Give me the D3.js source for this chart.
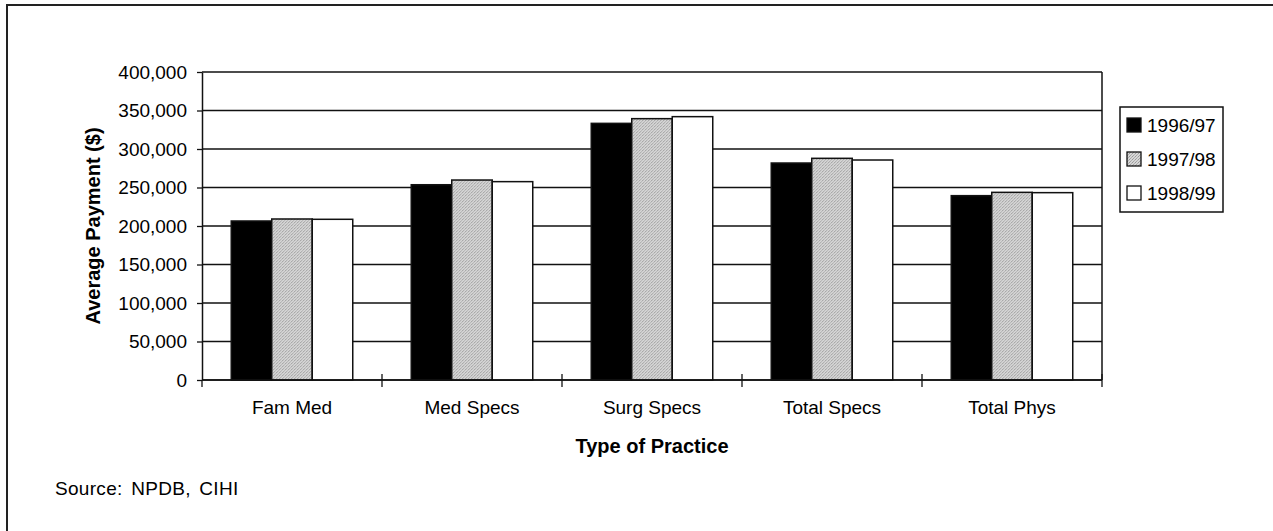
<!DOCTYPE html>
<html>
<head>
<meta charset="utf-8">
<script src="https://cdn.jsdelivr.net/npm/d3@7"></script>
<style>
  html, body { margin: 0; padding: 0; background: #fff; }
  svg { display: block; font-family: "Liberation Sans", Arial, sans-serif; }
</style>
</head>
<body>
<div id="chart"></div>
<script>
// data
var categories = ["Fam Med", "Med Specs", "Surg Specs", "Total Specs", "Total Phys"];
var seriesNames = ["1996/97", "1997/98", "1998/99"];
var values9697 = [206500, 253600, 333300, 281800, 239400];
var values9798 = [209100, 259700, 339400, 287900, 243700];
var values9899 = [208700, 257600, 342000, 285700, 243300];
var yTicks = [0, 50000, 100000, 150000, 200000, 250000, 300000, 350000, 400000];

var seriesValues = [values9697, values9798, values9899];
var fills = ["#000", "url(#stipple)", "#fff"];

var svgWidth = 1273, svgHeight = 531;
var margin = { top: 72, left: 202, right: 171, bottom: 151 };
var width = svgWidth - margin.left - margin.right;   // 900
var height = svgHeight - margin.top - margin.bottom; // 308

var svg = d3.select("#chart").append("svg")
  .attr("width", svgWidth)
  .attr("height", svgHeight);

// stippled grey fill
var defs = svg.append("defs");
var pat = defs.append("pattern")
  .attr("id", "stipple")
  .attr("patternUnits", "userSpaceOnUse")
  .attr("width", 3).attr("height", 3);
pat.append("rect").attr("width", 3).attr("height", 3).attr("fill", "#d6d6d6");
pat.append("rect").attr("x", 0).attr("y", 0).attr("width", 1).attr("height", 1).attr("fill", "#999");
pat.append("rect").attr("x", 2).attr("y", 1).attr("width", 1).attr("height", 1).attr("fill", "#b0b0b0");
pat.append("rect").attr("x", 1).attr("y", 2).attr("width", 1).attr("height", 1).attr("fill", "#a4a4a4");

// outer frame (right and bottom sides fall outside the window)
svg.append("rect")
  .attr("x", 7).attr("y", 5)
  .attr("width", 1300).attr("height", 600)
  .attr("fill", "none")
  .attr("stroke", "#222")
  .attr("stroke-width", 2);

var chartGroup = svg.append("g")
  .attr("transform", `translate(${margin.left}, ${margin.top})`);

// scales
var x0 = d3.scaleBand()
  .domain(categories)
  .range([0, width])
  .paddingInner(0.325)
  .paddingOuter(0.1625);

var x1 = d3.scaleBand()
  .domain(seriesNames)
  .range([0, x0.bandwidth()]);

var yScale = d3.scaleLinear()
  .domain([0, 400000])
  .range([height, 0]);

// gridlines
chartGroup.selectAll(".grid")
  .data(yTicks)
  .enter()
  .append("line")
  .attr("x1", 0).attr("x2", width)
  .attr("y1", d => yScale(d)).attr("y2", d => yScale(d))
  .attr("stroke", "#111")
  .attr("stroke-width", 1.3);

// right border of plot
chartGroup.append("line")
  .attr("x1", width).attr("x2", width)
  .attr("y1", 0).attr("y2", height)
  .attr("stroke", "#111")
  .attr("stroke-width", 1.5);

// bars
var groups = chartGroup.selectAll(".cat")
  .data(categories)
  .enter()
  .append("g")
  .attr("transform", d => `translate(${x0(d)},0)`);

groups.selectAll("rect")
  .data((c, i) => seriesNames.map((s, j) => ({ s: s, j: j, v: seriesValues[j][i] })))
  .enter()
  .append("rect")
  .attr("x", d => x1(d.s))
  .attr("y", d => yScale(d.v))
  .attr("width", x1.bandwidth())
  .attr("height", d => height - yScale(d.v))
  .attr("fill", d => fills[d.j])
  .attr("stroke", "#111")
  .attr("stroke-width", 1.5);

// y axis
var yAxis = d3.axisLeft(yScale)
  .tickValues(yTicks)
  .tickSize(5)
  .tickSizeOuter(0)
  .tickPadding(10)
  .tickFormat(d3.format(","));

var yG = chartGroup.append("g").call(yAxis);
yG.select(".domain").attr("stroke", "#111").attr("stroke-width", 1.5);
yG.selectAll(".tick line").attr("stroke", "#111").attr("stroke-width", 1.3);
yG.selectAll("text")
  .attr("font-family", "'Liberation Sans', Arial, sans-serif")
  .attr("font-size", "19px")
  .attr("fill", "#000");

// x axis line and boundary ticks
chartGroup.append("line")
  .attr("x1", 0).attr("x2", width)
  .attr("y1", height).attr("y2", height)
  .attr("stroke", "#111")
  .attr("stroke-width", 1.5);

var boundaries = categories.map(c => x0(c) - x0.step() * x0.paddingOuter());
boundaries.push(width);

chartGroup.selectAll(".xtick")
  .data(boundaries)
  .enter()
  .append("line")
  .attr("x1", d => d).attr("x2", d => d)
  .attr("y1", (d, i) => i === 0 ? height : height - 6)
  .attr("y2", height + 7)
  .attr("stroke", "#111")
  .attr("stroke-width", 1.3);

// category labels
chartGroup.selectAll(".catLabel")
  .data(categories)
  .enter()
  .append("text")
  .attr("x", d => x0(d) + x0.bandwidth() / 2)
  .attr("y", height + 34)
  .attr("text-anchor", "middle")
  .attr("font-size", "19px")
  .text(d => d);

// axis titles
chartGroup.append("text")
  .attr("x", width / 2)
  .attr("y", height + 73)
  .attr("text-anchor", "middle")
  .attr("font-size", "20px")
  .attr("font-weight", "bold")
  .text("Type of Practice");

chartGroup.append("text")
  .attr("transform", `translate(-102, ${height / 2}) rotate(-90)`)
  .attr("text-anchor", "middle")
  .attr("font-size", "20px")
  .attr("font-weight", "bold")
  .text("Average Payment ($)");

// legend
var legend = svg.append("g").attr("transform", "translate(1120, 107)");
legend.append("rect")
  .attr("width", 103).attr("height", 105)
  .attr("fill", "#fff")
  .attr("stroke", "#111")
  .attr("stroke-width", 1.5);

var items = legend.selectAll(".item")
  .data(seriesNames)
  .enter()
  .append("g")
  .attr("transform", (d, i) => `translate(0, ${18 + i * 34})`);

items.append("rect")
  .attr("x", 7).attr("y", -7)
  .attr("width", 14).attr("height", 14)
  .attr("fill", (d, i) => fills[i])
  .attr("stroke", "#111")
  .attr("stroke-width", 1.3);

items.append("text")
  .attr("x", 27)
  .attr("y", 7)
  .attr("font-size", "19px")
  .text(d => d);

// source note
svg.append("text")
  .attr("x", 55)
  .attr("y", 495)
  .attr("font-size", "19px")
  .attr("word-spacing", "3px")
  .attr("letter-spacing", "0.3px")
  .text("Source: NPDB, CIHI");
</script>
</body>
</html>
